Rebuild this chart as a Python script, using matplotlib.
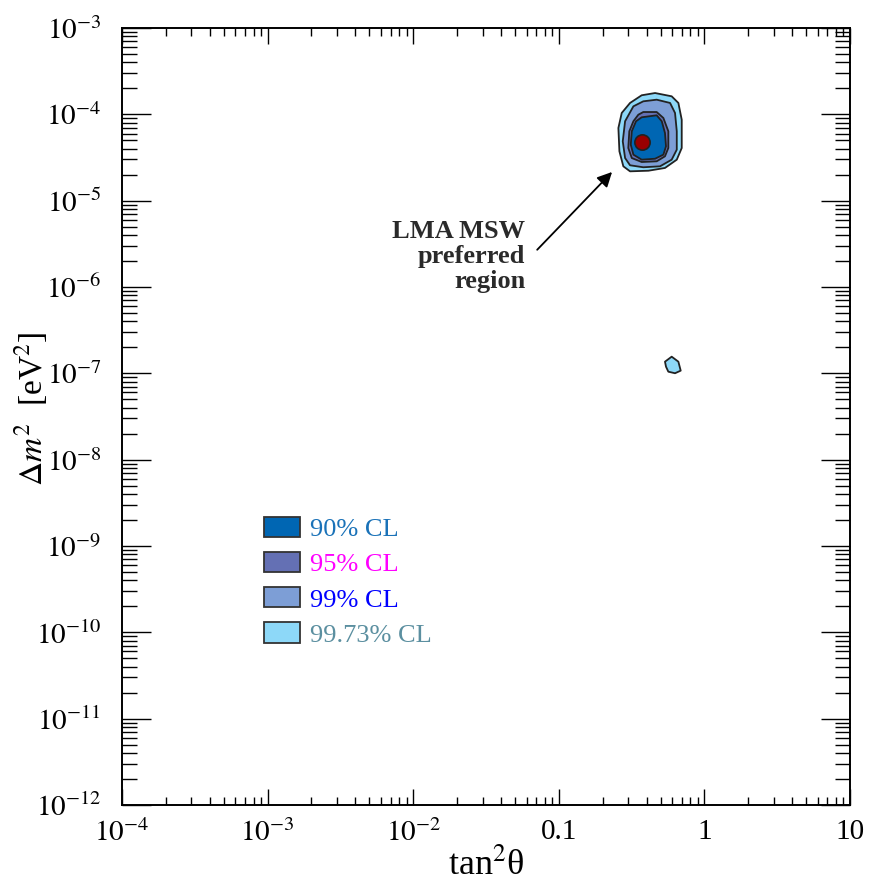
import matplotlib
matplotlib.use("Agg")
import matplotlib.pyplot as plt
import numpy as np
from matplotlib.patches import Patch
from matplotlib.ticker import LogLocator, NullFormatter

plt.rcParams['font.family'] = ['Liberation Serif', 'DejaVu Serif']
plt.rcParams['mathtext.fontset'] = 'stix'

# contour outlines, as log10(tan^2 theta), log10(dm^2 / eV^2)
cl9973_lx = [-0.511, -0.431, -0.339, -0.225, -0.179, -0.156, -0.156, -0.190,
             -0.271, -0.385, -0.511, -0.557, -0.584, -0.591, -0.568]
cl9973_ly = [-3.868, -3.779, -3.753, -3.791, -3.868, -4.062, -4.390, -4.525,
             -4.621, -4.653, -4.660, -4.602, -4.428, -4.158, -3.984]
island_lx = [-0.271, -0.225, -0.179, -0.163, -0.202, -0.248, -0.264]
island_ly = [-6.865, -6.807, -6.865, -6.969, -6.999, -6.981, -6.923]
cl99_lx = [-0.488, -0.420, -0.328, -0.236, -0.202, -0.190, -0.190, -0.225,
           -0.305, -0.420, -0.511, -0.545, -0.561, -0.545]
cl99_ly = [-3.907, -3.849, -3.830, -3.868, -3.984, -4.196, -4.409, -4.525,
           -4.602, -4.613, -4.590, -4.506, -4.312, -4.080]
cl95_lx = [-0.454, -0.420, -0.328, -0.282, -0.248, -0.248, -0.271, -0.328,
           -0.431, -0.499, -0.523, -0.516, -0.488]
cl95_ly = [-4.004, -3.973, -3.973, -4.042, -4.196, -4.390, -4.486, -4.544,
           -4.552, -4.506, -4.390, -4.196, -4.080]
cl90_lx = [-0.431, -0.328, -0.293, -0.271, -0.264, -0.282, -0.339, -0.431,
           -0.488, -0.506, -0.499, -0.470]
cl90_ly = [-4.034, -4.011, -4.080, -4.216, -4.370, -4.467, -4.514, -4.525,
           -4.467, -4.351, -4.196, -4.080]

best_fit = (0.37, 4.8e-5)

levels = ['90% CL', '95% CL', '99% CL', '99.73% CL']
fill_colors = ['#0066b3', '#6470b4', '#7d9ed6', '#8dd8f8']
text_colors = ['#1a72b8', '#ff00ff', '#0000ff', '#5b8fa0']

xticks = [1e-4, 1e-3, 1e-2, 0.1, 1, 10]
xticklabels = [r'$10^{-4}$', r'$10^{-3}$', r'$10^{-2}$', '0.1', '1', '10']
yticks = [10.0 ** k for k in range(-12, -2)]
yticklabels = [r'$10^{%d}$' % k for k in range(-12, -2)]

fig = plt.figure(figsize=(8.74, 8.84), dpi=100)
ax = fig.add_axes([0.1396, 0.0894, 0.8330, 0.8789])
ax.set_xscale('log')
ax.set_yscale('log')
ax.set_xlim(1e-4, 10)
ax.set_ylim(1e-12, 1e-3)

# filled regions, outermost first
shapes = [(cl9973_lx, cl9973_ly, 3), (island_lx, island_ly, 3),
          (cl99_lx, cl99_ly, 2), (cl95_lx, cl95_ly, 1), (cl90_lx, cl90_ly, 0)]
for lx, ly, i in shapes:
    ax.fill(10.0 ** np.array(lx), 10.0 ** np.array(ly), facecolor=fill_colors[i],
            edgecolor='#222222', linewidth=1.3, joinstyle='round', zorder=2)

ax.plot(*best_fit, 'o', ms=11, color='#990000', mec='#222222', mew=1.2, zorder=3)

# annotation
ax.annotate('', xy=(0.232, 2.15e-5), xytext=(0.071, 2.7e-6),
            arrowprops=dict(arrowstyle='-|>', color='black', lw=1.3,
                            mutation_scale=22, shrinkA=0, shrinkB=0), zorder=4)
ax.text(0.059, 2.25e-6, 'LMA MSW\npreferred\nregion', ha='right', va='center',
        fontsize=19, fontweight='bold', color='#2a2a2a', linespacing=1.12)

# legend
handles = [Patch(facecolor=c, edgecolor='#333333', linewidth=1.3) for c in fill_colors]
leg = ax.legend(handles, levels, loc='upper left', bbox_to_anchor=(0.302, 0.415),
                bbox_transform=fig.transFigure, frameon=False, fontsize=19,
                handlelength=1.38, handleheight=0.8, handletextpad=0.35,
                labelspacing=0.41, borderpad=0, borderaxespad=0)
for t, c in zip(leg.get_texts(), text_colors):
    t.set_color(c)

# axes and ticks
ax.set_xticks(xticks)
ax.set_xticklabels(xticklabels)
ax.set_yticks(yticks)
ax.set_yticklabels(yticklabels)
ax.xaxis.set_minor_locator(LogLocator(base=10, subs=np.arange(2, 10), numticks=100))
ax.yaxis.set_minor_locator(LogLocator(base=10, subs=np.arange(2, 10), numticks=100))
ax.xaxis.set_minor_formatter(NullFormatter())
ax.yaxis.set_minor_formatter(NullFormatter())
ax.tick_params(axis='both', which='both', direction='in', top=True, right=True,
               labelsize=21, colors='black')
ax.tick_params(axis='x', which='major', length=11.5, width=1.0, pad=10)
ax.tick_params(axis='x', which='minor', length=5.8, width=1.0)
ax.tick_params(axis='y', which='major', length=21, width=1.0, pad=15)
ax.tick_params(axis='y', which='minor', length=10.8, width=1.0)
for s in ax.spines.values():
    s.set_linewidth(1.4)

ax.set_xlabel(r'tan$^2$θ', fontsize=26)
ax.xaxis.set_label_coords(0.5, -0.079)
ax.xaxis.label.set_va('center')
ax.set_ylabel(r'$\Delta m^2$  [eV$^2$]', fontsize=24)
ax.yaxis.set_label_coords(-0.125, 0.51)
ax.yaxis.label.set_va('center')

fig.savefig('out.png', dpi=100)
